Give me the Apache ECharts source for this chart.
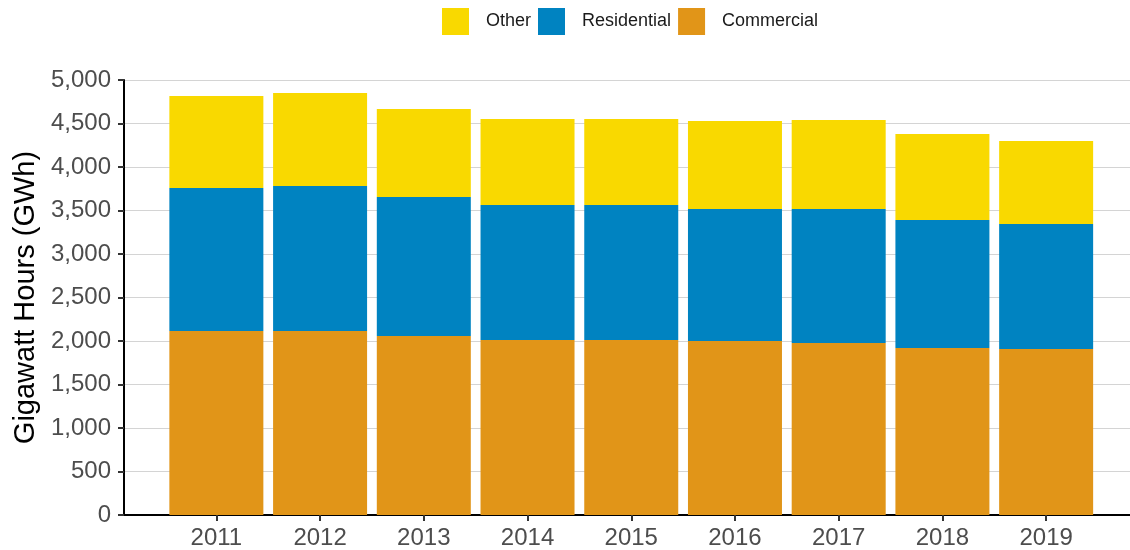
<!DOCTYPE html>
<html>
<head>
<meta charset="utf-8">
<script src="https://cdn.jsdelivr.net/npm/echarts@6/dist/echarts.min.js"></script>
<style>
  html, body { margin: 0; padding: 0; background: #fff; }
  #chart { width: 1130px; height: 550px; }
</style>
</head>
<body>
<div id="chart"></div>
<script>
// data (GWh)
var years = ['2011', '2012', '2013', '2014', '2015', '2016', '2017', '2018', '2019'];
var commercial = [2115, 2115, 2057, 2011, 2011, 2000, 1977, 1920, 1908];
var residential = [1644, 1667, 1598, 1552, 1552, 1517, 1540, 1471, 1437];
var other = [1057, 1068, 1012, 989, 989, 1012, 1023, 988, 954];

var legendOrder = ['Other', 'Residential', 'Commercial'];
var yTicks = { min: 0, max: 5000, step: 500 };

var chart = echarts.init(document.getElementById('chart'));

var fmt = function(v) {
  return Number(v).toLocaleString('en-US');
};

var option = {
  animation: false,
  textStyle: { fontFamily: 'Liberation Sans, Arial, sans-serif' },
  legend: {
    data: legendOrder,
    left: 442,
    top: 8,
    padding: 0,
    itemWidth: 27,
    itemHeight: 27,
    itemGap: 7,
    icon: 'rect',
    textStyle: { fontSize: 18, color: '#1a1a1a', padding: [0, 0, 0, 12] }
  },
  grid: [
    { left: 124, right: 0, top: 80, bottom: 35 },
    { left: 164.5, right: 32, top: 80, bottom: 35 }
  ],
  xAxis: [
    {
      type: 'category',
      gridIndex: 0,
      data: years,
      axisLine: { show: true, lineStyle: { color: '#000', width: 2 } },
      axisTick: { show: false },
      axisLabel: { show: false }
    },
    {
      type: 'category',
      gridIndex: 1,
      data: years,
      axisLine: { show: false },
      axisTick: { show: true, alignWithLabel: true, length: 6, lineStyle: { color: '#333', width: 2 } },
      axisLabel: { color: '#4d4d4d', fontSize: 24, margin: 11 }
    }
  ],
  yAxis: [
    {
      type: 'value',
      gridIndex: 0,
      min: yTicks.min,
      max: yTicks.max,
      interval: yTicks.step,
      name: 'Gigawatt Hours (GWh)',
      nameLocation: 'middle',
      nameGap: 80,
      nameTextStyle: { fontSize: 29, color: '#000' },
      axisLine: { show: true, lineStyle: { color: '#000', width: 2 } },
      axisTick: { show: true, length: 6, lineStyle: { color: '#333', width: 2 } },
      axisLabel: { color: '#4d4d4d', fontSize: 24, margin: 13, formatter: fmt },
      splitLine: { show: true, lineStyle: { color: '#d4d4d4', width: 1 } }
    },
    {
      type: 'value',
      gridIndex: 1,
      min: yTicks.min,
      max: yTicks.max,
      show: false,
      splitLine: { show: false }
    }
  ],
  series: [
    {
      name: 'Commercial', type: 'bar', stack: 'total',
      xAxisIndex: 1, yAxisIndex: 1, barWidth: 94,
      itemStyle: { color: '#e19518' },
      data: commercial
    },
    {
      name: 'Residential', type: 'bar', stack: 'total',
      xAxisIndex: 1, yAxisIndex: 1, barWidth: 94,
      itemStyle: { color: '#0083c1' },
      data: residential
    },
    {
      name: 'Other', type: 'bar', stack: 'total',
      xAxisIndex: 1, yAxisIndex: 1, barWidth: 94,
      itemStyle: { color: '#f9d900' },
      data: other
    }
  ]
};

chart.setOption(option);
</script>
</body>
</html>
